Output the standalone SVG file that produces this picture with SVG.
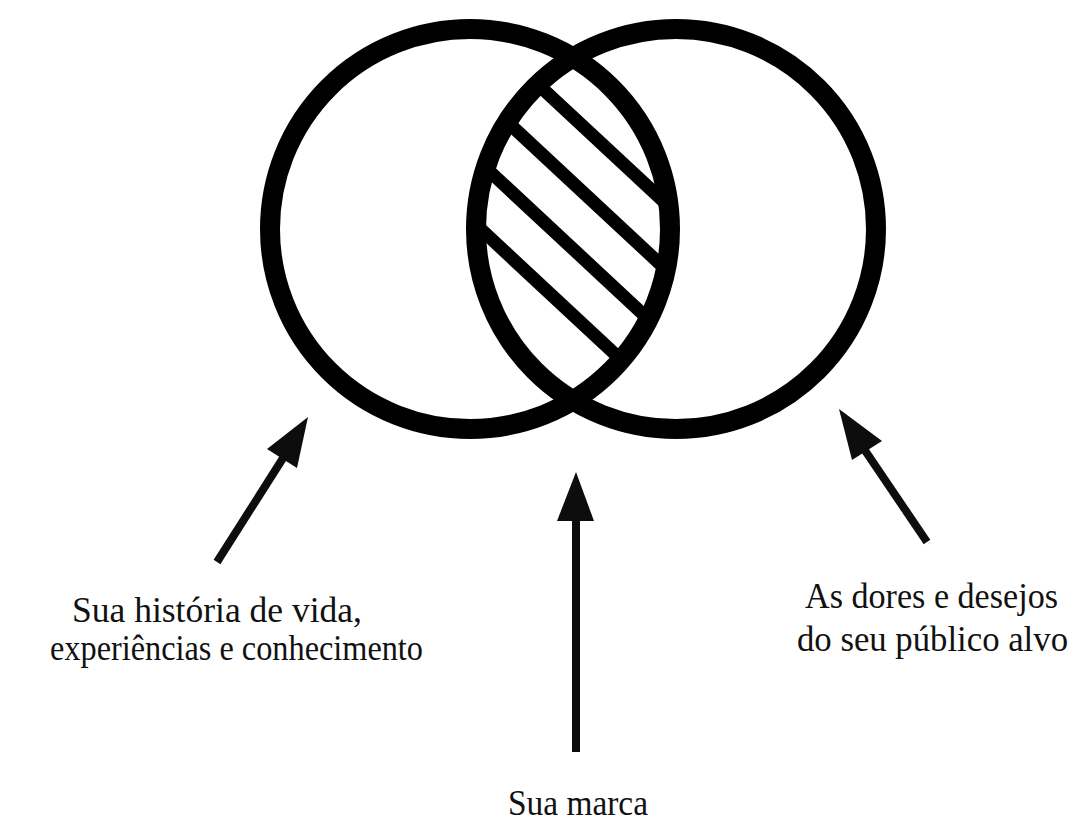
<svg xmlns="http://www.w3.org/2000/svg" width="1080" height="833" viewBox="0 0 1080 833">
<style>
.ring{fill:none;stroke:#000;stroke-width:20}
.hatch{stroke:#000;stroke-width:13}
.shaft{stroke:#0d0d0d;stroke-width:8;fill:none}
.head{fill:#0d0d0d}
.lbl{font-family:"Liberation Serif","Times New Roman",serif;font-size:35px;fill:#111}
</style>
<defs>
<clipPath id="cl"><circle cx="470" cy="229" r="200"/></clipPath>
<clipPath id="cr"><circle cx="676" cy="229" r="200"/></clipPath>
</defs>
<rect width="1080" height="833" fill="#fff"/>
<g id="overlap-hatch" clip-path="url(#cl)">
<g clip-path="url(#cr)">
<line class="hatch" x1="400" y1="-44" x2="760" y2="291"/>
<line class="hatch" x1="400" y1="22" x2="760" y2="357"/>
<line class="hatch" x1="400" y1="88" x2="760" y2="423"/>
<line class="hatch" x1="400" y1="154" x2="760" y2="489"/>
</g>
</g>
<g id="circle-left"><circle class="ring" cx="470" cy="229" r="200"/></g>
<g id="circle-right"><circle class="ring" cx="676" cy="229" r="200"/></g>
<g id="connectors">
<line class="shaft" x1="217" y1="562" x2="285" y2="455"/>
<polygon class="head" points="308,417 267,449 297,468"/>
<line class="shaft" x1="576" y1="752" x2="576" y2="515"/>
<polygon class="head" points="576,472 557,521 594,521"/>
<line class="shaft" x1="927" y1="542" x2="862" y2="446"/>
<polygon class="head" points="839,409 852,460 882,441"/>
</g>
<g id="label-left">
<text class="lbl" x="72" y="622" textLength="290" lengthAdjust="spacingAndGlyphs">Sua história de vida,</text>
<text class="lbl" x="50" y="660" textLength="373" lengthAdjust="spacingAndGlyphs">experiências e conhecimento</text>
</g>
<g id="label-right">
<text class="lbl" x="805" y="608" textLength="253" lengthAdjust="spacingAndGlyphs">As dores e desejos</text>
<text class="lbl" x="797" y="651" textLength="271" lengthAdjust="spacingAndGlyphs">do seu público alvo</text>
</g>
<g id="label-center">
<text class="lbl" x="508" y="815" textLength="140" lengthAdjust="spacingAndGlyphs">Sua marca</text>
</g>
</svg>
